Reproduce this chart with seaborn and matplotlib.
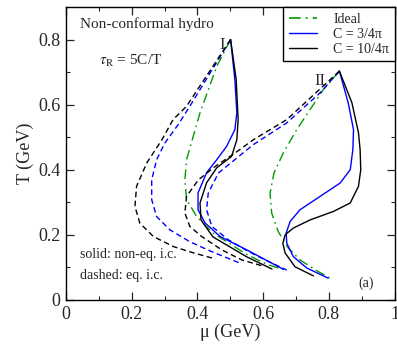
import numpy as np
import pandas as pd
import matplotlib
matplotlib.use("Agg")
import matplotlib.pyplot as plt
from matplotlib.lines import Line2D
from matplotlib.ticker import MultipleLocator
import seaborn as sns

# ---- data (mu, T) ----
# Trajectory I, start (0.50, 0.80)
ideal_I_mu = [0.501, 0.459, 0.408, 0.367, 0.362, 0.367, 0.398, 0.428, 0.447, 0.55, 0.61, 0.672]
ideal_I_T = [0.800, 0.718, 0.575, 0.431, 0.369, 0.308, 0.256, 0.225, 0.206, 0.140, 0.110, 0.090]

c3_I_mu = [0.501, 0.514, 0.520, 0.514, 0.489, 0.459, 0.428, 0.402, 0.402, 0.423, 0.469, 0.55, 0.66]
c3_I_T = [0.800, 0.677, 0.575, 0.523, 0.472, 0.431, 0.391, 0.329, 0.277, 0.237, 0.195, 0.154, 0.095]

c10_I_mu = [0.501, 0.518, 0.524, 0.520, 0.504, 0.459, 0.428, 0.408, 0.411, 0.447, 0.499, 0.551, 0.627]
c10_I_T = [0.800, 0.677, 0.554, 0.492, 0.441, 0.406, 0.360, 0.298, 0.246, 0.194, 0.163, 0.132, 0.095]

c3eq_I_mu = [0.501, 0.377, 0.341, 0.301, 0.276, 0.261, 0.261, 0.276, 0.317, 0.377, 0.44, 0.53]
c3eq_I_T = [0.800, 0.595, 0.538, 0.482, 0.431, 0.369, 0.308, 0.256, 0.215, 0.179, 0.150, 0.113]

c10eq_I_mu = [0.501, 0.367, 0.326, 0.292, 0.246, 0.215, 0.210, 0.225, 0.266, 0.327, 0.387, 0.455]
c10eq_I_T = [0.800, 0.595, 0.554, 0.492, 0.421, 0.349, 0.287, 0.236, 0.195, 0.164, 0.145, 0.126]

# Trajectory II, start (0.83, 0.70)
ideal_II_mu = [0.832, 0.783, 0.743, 0.702, 0.661, 0.633, 0.621, 0.626, 0.646, 0.676, 0.712, 0.768, 0.809]
ideal_II_T = [0.703, 0.646, 0.585, 0.523, 0.451, 0.390, 0.328, 0.267, 0.210, 0.160, 0.123, 0.087, 0.064]

c3_II_mu = [0.832, 0.859, 0.875, 0.873, 0.865, 0.834, 0.773, 0.712, 0.682, 0.670, 0.672, 0.692, 0.733, 0.798]
c3_II_T = [0.703, 0.605, 0.523, 0.462, 0.400, 0.359, 0.318, 0.277, 0.241, 0.205, 0.174, 0.133, 0.098, 0.067]

c10_II_mu = [0.832, 0.870, 0.890, 0.895, 0.897, 0.890, 0.865, 0.814, 0.743, 0.692, 0.667, 0.660, 0.667, 0.697, 0.753]
c10_II_T = [0.703, 0.606, 0.514, 0.462, 0.400, 0.349, 0.298, 0.272, 0.246, 0.221, 0.200, 0.174, 0.144, 0.102, 0.074]

c3eq_II_mu = [0.832, 0.773, 0.672, 0.570, 0.514, 0.464, 0.433, 0.428, 0.444, 0.494, 0.555, 0.606, 0.672]
c3eq_II_T = [0.703, 0.636, 0.544, 0.477, 0.431, 0.390, 0.328, 0.277, 0.226, 0.185, 0.149, 0.123, 0.092]

c10eq_II_mu = [0.832, 0.672, 0.570, 0.514, 0.454, 0.403, 0.367, 0.362, 0.377, 0.413, 0.474, 0.535, 0.600]
c10eq_II_T = [0.703, 0.554, 0.492, 0.451, 0.410, 0.369, 0.318, 0.267, 0.226, 0.195, 0.154, 0.123, 0.104]

xticks = [0, 0.2, 0.4, 0.6, 0.8, 1]
xticklabels = ["0", "0.2", "0.4", "0.6", "0.8", "1"]
yticks = [0, 0.2, 0.4, 0.6, 0.8]
yticklabels = ["0", "0.2", "0.4", "0.6", "0.8"]
legend_labels = ["Ideal", "C = 3/4\u03c0", "C = 10/4\u03c0"]

GREEN = "#009a00"
BLUE = "#0000ff"
BLACK = "#000000"

sns.set_style("ticks")
plt.rcParams["font.family"] = ["Liberation Serif", "DejaVu Serif"]
plt.rcParams["mathtext.fontset"] = "stix"

fig = plt.figure(figsize=(3.97, 3.48), dpi=100)
ax = fig.add_axes([0.166, 0.138, 0.828, 0.842])

DASHDOT = (0, (7, 3, 1.2, 3))
DASH = (0, (4, 2.5))
curves = [
    (ideal_I_mu, ideal_I_T, GREEN, DASHDOT),
    (c3_I_mu, c3_I_T, BLUE, "-"),
    (c10_I_mu, c10_I_T, BLACK, "-"),
    (c3eq_I_mu, c3eq_I_T, BLUE, DASH),
    (c10eq_I_mu, c10eq_I_T, BLACK, DASH),
    (ideal_II_mu, ideal_II_T, GREEN, DASHDOT),
    (c3_II_mu, c3_II_T, BLUE, "-"),
    (c10_II_mu, c10_II_T, BLACK, "-"),
    (c3eq_II_mu, c3eq_II_T, BLUE, DASH),
    (c10eq_II_mu, c10eq_II_T, BLACK, DASH),
]

for mu, T, col, ls in curves:
    df = pd.DataFrame({"mu": mu, "T": T})
    sns.lineplot(data=df, x="mu", y="T", sort=False, estimator=None,
                 color=col, linewidth=1.0, ax=ax)
    ax.lines[-1].set_linestyle(ls)
    ax.lines[-1].set_solid_joinstyle("round")

ax.set_xlim(0, 1)
ax.set_ylim(0, 0.9)
ax.set_xticks(xticks)
ax.set_xticklabels(xticklabels)
ax.set_yticks(yticks)
ax.set_yticklabels(yticklabels)
ax.xaxis.set_minor_locator(MultipleLocator(0.1))
ax.yaxis.set_minor_locator(MultipleLocator(0.1))
ax.tick_params(which="both", direction="in", top=True, right=True, labelsize=13, pad=4)
ax.tick_params(which="major", length=6, width=0.9)
ax.tick_params(which="minor", length=3, width=0.8)
for s in ax.spines.values():
    s.set_linewidth(1.0)
    s.set_color("black")

ax.set_xlabel("\u03bc (GeV)", fontsize=13, labelpad=1)
ax.set_ylabel("T (GeV)", fontsize=13, labelpad=3)

ax.text(0.044, 0.835, "Non-conformal hydro", fontsize=11)
ax.text(0.10, 0.722, r"$\tau_{\rm R}$ = 5C/T", fontsize=11)
ax.text(0.466, 0.77, "I", fontsize=12)
ax.text(0.757, 0.66, "II", fontsize=12)
ax.text(0.044, 0.13, "solid: non-eq. i.c.", fontsize=10)
ax.text(0.044, 0.065, "dashed: eq. i.c.", fontsize=10)
ax.text(0.89, 0.04, "(a)", fontsize=10)

handles = [
    Line2D([], [], color=GREEN, linestyle=DASHDOT, linewidth=1.2),
    Line2D([], [], color=BLUE, linewidth=1.0),
    Line2D([], [], color=BLACK, linewidth=1.0),
]
leg = ax.legend(handles, legend_labels, loc="upper right", fontsize=10,
                frameon=True, fancybox=False, framealpha=1, edgecolor="black",
                handlelength=2.0, borderaxespad=0.0, labelspacing=0.15,
                handletextpad=1.2, borderpad=0.4)
leg.get_frame().set_linewidth(1.0)

fig.savefig("out.png", dpi=100)
